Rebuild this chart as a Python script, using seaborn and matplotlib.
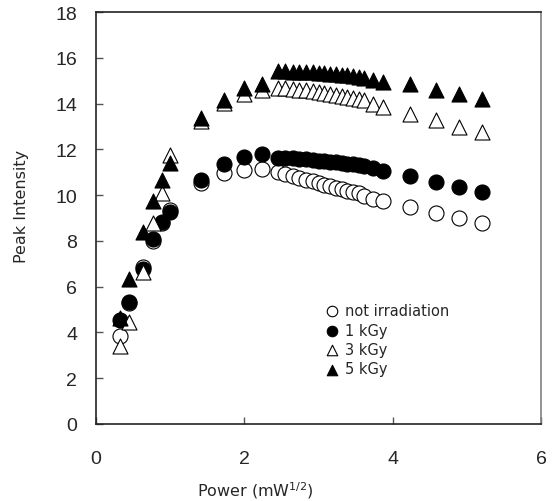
import matplotlib
matplotlib.use("Agg")
import matplotlib.pyplot as plt
import seaborn as sns
import pandas as pd

# Power (mW^1/2)
power = [0.32, 0.45, 0.63, 0.77, 0.89, 1.00, 1.41, 1.73, 2.00, 2.24,
         2.45, 2.55, 2.65, 2.74, 2.83, 2.92, 3.00, 3.08, 3.16, 3.24,
         3.32, 3.39, 3.46, 3.54, 3.61, 3.74, 3.87, 4.24, 4.58, 4.90, 5.20]

# Peak intensity for each sample
not_irradiation = [3.85, 5.30, 6.85, 8.00, 8.80, 9.35, 10.55, 10.98, 11.08, 11.12,
                   10.99, 10.91, 10.83, 10.75, 10.67, 10.60, 10.52, 10.46, 10.39, 10.32,
                   10.26, 10.20, 10.14, 10.08, 9.98, 9.85, 9.75, 9.46, 9.24, 8.98, 8.77]
kgy_1 = [4.55, 5.33, 6.77, 8.07, 8.83, 9.25, 10.68, 11.38, 11.65, 11.80,
         11.63, 11.62, 11.60, 11.58, 11.56, 11.54, 11.51, 11.49, 11.46, 11.44,
         11.41, 11.38, 11.35, 11.32, 11.28, 11.17, 11.06, 10.82, 10.58, 10.34, 10.12]
kgy_3 = [3.40, 4.45, 6.62, 8.77, 10.08, 11.75, 13.25, 14.03, 14.43, 14.58,
         14.69, 14.67, 14.64, 14.61, 14.58, 14.54, 14.50, 14.46, 14.42, 14.38,
         14.34, 14.30, 14.26, 14.22, 14.15, 13.99, 13.85, 13.54, 13.29, 12.96, 12.76]
kgy_5 = [4.62, 6.33, 8.40, 9.75, 10.66, 11.42, 13.37, 14.16, 14.70, 14.87,
         15.41, 15.41, 15.40, 15.39, 15.37, 15.36, 15.35, 15.33, 15.31, 15.29,
         15.26, 15.23, 15.20, 15.16, 15.12, 15.02, 14.95, 14.84, 14.60, 14.41, 14.22]

samples = ['not irradiation', '1 kGy', '3 kGy', '5 kGy']
series = [not_irradiation, kgy_1, kgy_3, kgy_5]

df = pd.DataFrame({
    'Power': power * 4,
    'Intensity': sum(series, []),
    'Sample': [s for s in samples for _ in power],
})

sns.set_style("ticks")
# tick numbers in an arial-like face, labels and legend in DejaVu
plt.rcParams['font.family'] = ['Liberation Sans', 'DejaVu Sans']

fig, ax = plt.subplots(figsize=(5.57, 5.02), dpi=100)
fig.subplots_adjust(left=0.1724, right=0.9713, bottom=0.1534, top=0.9741)

# marker shape and face colour for each sample (excel style)
marker_styles = {
    'not irradiation': ('o', 'white'),
    '1 kGy': ('o', 'black'),
    '3 kGy': ('^', 'white'),
    '5 kGy': ('^', 'black'),
}
for name in samples:
    marker, face = marker_styles[name]
    sub = df[df['Sample'] == name]
    sns.scatterplot(data=sub, x='Power', y='Intensity', marker=marker, s=117,
                    color=face, edgecolor='black', linewidth=0.8, label=name, ax=ax)

ax.set_xlim(0, 6)
ax.set_ylim(0, 18)
ax.set_xticks([0, 2, 4, 6])
ax.set_yticks(range(0, 19, 2))

for side in ['left', 'bottom', 'top']:
    ax.spines[side].set_color('#222222')
    ax.spines[side].set_linewidth(1.2)
ax.spines['right'].set_color('#808080')
ax.spines['right'].set_linewidth(1.2)

ax.tick_params(axis='both', direction='in', length=5, width=1, color='#555555',
               labelsize=14, top=False, right=False)
ax.tick_params(axis='y', pad=13.5)
ax.tick_params(axis='x', pad=19)

ax.set_xlabel('Power (mW$^{1/2}$)', fontsize=11.5, family='DejaVu Sans')
ax.set_ylabel('Peak Intensity', fontsize=11.5, family='DejaVu Sans')
ax.xaxis.set_label_coords(0.357, -0.135)
ax.yaxis.set_label_coords(-0.15, 0.53)

ax.legend(loc='upper left', bbox_to_anchor=(0.515, 0.293), frameon=False,
          prop={'family': 'DejaVu Sans', 'size': 10.5}, markerscale=0.7,
          handlelength=1.0, handletextpad=0.36, labelspacing=0.3,
          borderpad=0, borderaxespad=0)

plt.savefig('out.png', dpi=100)
plt.close()
